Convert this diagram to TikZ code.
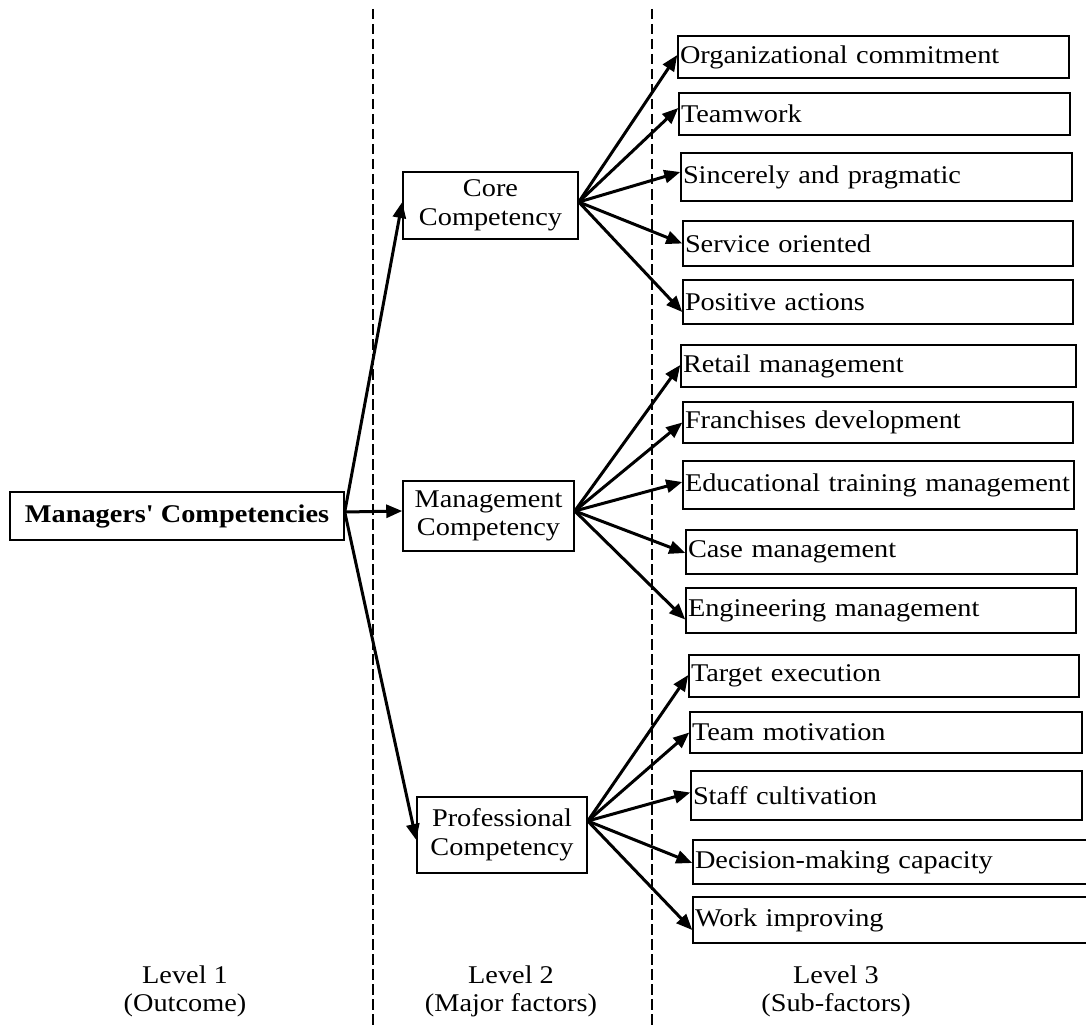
\documentclass[tikz,border=0pt]{standalone}
\usepackage{fontspec}
\setmainfont{Liberation Serif}[FakeStretch=1.11]
\newfontfamily\rawserif{Liberation Serif}[FakeStretch=1.11]
\usetikzlibrary{arrows.meta}
\tikzset{
  box/.style={draw=black, line width=1.5pt, rectangle, inner sep=2pt, align=center, font=\rawserif\fontsize{25.5}{28.5}\selectfont},
  sub/.style={draw=black, line width=1.5pt, rectangle, inner xsep=2pt, inner ysep=1pt, align=left, font=\rawserif\fontsize{25.5}{28.5}\selectfont},
  arr/.style={line width=3pt, -{Triangle[length=16pt,width=13pt]}},
  divider/.style={line width=2.6pt, dash pattern=on 10.5pt off 4.5pt},
  lvl/.style={align=center, font=\rawserif\fontsize{25.5}{28}\selectfont, inner sep=0pt}
}
\newcommand\mkbox[6]{%
  \pgfmathsetmacro\myBW{#4-#2}\pgfmathsetmacro\myBH{#5-#3}%
  \pgfmathsetmacro\myBX{(#2+#4)/2}\pgfmathsetmacro\myBY{(#3+#5)/2}%
  \pgfmathsetmacro\myTW{#4-#2-4}%
  \node[sub, minimum width=\myBW pt, minimum height=\myBH pt, text width=\myTW pt] (#1) at (\myBX,\myBY) {#6};}
\begin{document}
\begin{tikzpicture}[x=1pt,y=-1pt]
\useasboundingbox (0,0) rectangle (1086,1027);
% dividers
\draw[divider] (373,9) -- (373,1027);
\draw[divider] (652,9) -- (652,1027);
% main and level-2 boxes
\node[box, font=\rawserif\fontsize{25.5}{28.5}\selectfont\bfseries, minimum width=334pt, minimum height=48pt] (main) at (177,516) {Managers' Competencies};
\node[box, minimum width=175pt, minimum height=67pt] (core) at (490.5,205.5) {Core\\Competency};
\node[box, minimum width=171pt, minimum height=70pt] (mgmt) at (488.5,516) {Management\\Competency};
\node[box, minimum width=170pt, minimum height=76pt] (prof) at (502,835) {Professional\\Competency};
% level-3 boxes
\mkbox{s1}{678}{36}{1069}{78}{Organizational commitment}
\mkbox{s2}{679}{93}{1070}{135}{Teamwork}
\mkbox{s3}{681}{153}{1072}{201}{Sincerely and pragmatic}
\mkbox{s4}{683}{221}{1073}{266}{Service oriented}
\mkbox{s5}{683}{280}{1073}{324}{Positive actions}
\mkbox{m1}{681}{345}{1076}{387}{Retail management}
\mkbox{m2}{683}{402}{1073}{443}{Franchises development}
\mkbox{m3}{683}{461}{1074}{509}{Educational training management}
\mkbox{m4}{686}{530}{1077}{574}{Case management}
\mkbox{m5}{686}{588}{1076}{633}{Engineering management}
\mkbox{p1}{689}{655}{1079}{697}{Target execution}
\mkbox{p2}{690}{712}{1082}{753}{Team motivation}
\mkbox{p3}{691}{771}{1082}{820}{Staff cultivation}
\mkbox{p4}{693}{840}{1092}{884}{Decision-making capacity}
\mkbox{p5}{693}{897}{1092}{943}{Work improving}
% level labels
\node[lvl] (l1) at (185,991) {Level 1\\(Outcome)};
\node[lvl] (l2) at (511,991) {Level 2\\(Major factors)};
\node[lvl] (l3) at (836,991) {Level 3\\(Sub-factors)};
% connector origins
\coordinate (mo) at ([yshift=4pt]main.east);
\coordinate (co) at ([yshift=3.5pt]core.east);
\coordinate (go) at ([yshift=5pt]mgmt.east);
\coordinate (po) at ([yshift=14pt]prof.east);
% level 1 -> level 2
\draw[arr] (mo) -- ([yshift=3.5pt]core.west);
\draw[arr] (mo) -- ([yshift=5pt]mgmt.west);
\draw[arr] (mo) -- ([yshift=-5pt]prof.west);
% core
\draw[arr] (co) -- ([yshift=2pt]s1.west);
\draw[arr] (co) -- ([yshift=6pt]s2.west);
\draw[arr] (co) -- ([yshift=5pt]s3.west);
\draw[arr] (co) -- (s4.west);
\draw[arr] (co) -- ([yshift=-10pt]s5.west);
% management
\draw[arr] (go) -- ([yshift=1pt]m1.west);
\draw[arr] (go) -- (m2.west);
\draw[arr] (go) -- ([yshift=3pt]m3.west);
\draw[arr] (go) -- ([yshift=-1pt]m4.west);
\draw[arr] (go) -- ([yshift=-9pt]m5.west);
% professional
\draw[arr] (po) -- ([yshift=1pt]p1.west);
\draw[arr] (po) -- (p2.west);
\draw[arr] (po) -- ([yshift=3pt]p3.west);
\draw[arr] (po) -- ([yshift=-1pt]p4.west);
\draw[arr] (po) -- ([yshift=-10pt]p5.west);
\end{tikzpicture}
\end{document}
